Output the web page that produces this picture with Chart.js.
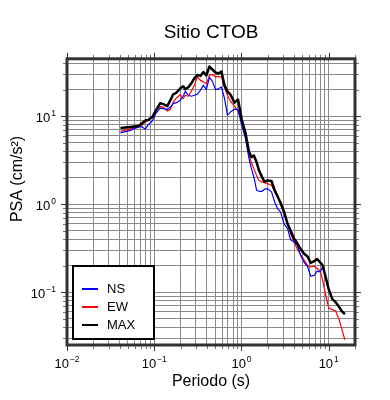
<!DOCTYPE html>
<html>
<head>
<meta charset="utf-8">
<script src="https://cdn.jsdelivr.net/npm/chart.js@4"></script>
<style>
  body { margin: 0; background: #fff; }
  canvas { display: block; }
</style>
</head>
<body>
<canvas id="psaChart" width="390" height="400"></canvas>
<script>
// periods (s) and spectral accelerations
const periods = [0.041, 0.053, 0.066, 0.073, 0.079, 0.085, 0.095, 0.105, 0.117, 0.127,
    0.141, 0.153, 0.165, 0.179, 0.199, 0.215, 0.227, 0.246, 0.266, 0.288,
    0.312, 0.338, 0.366, 0.396, 0.429, 0.464, 0.503, 0.544, 0.589, 0.638,
    0.690, 0.747, 0.831, 0.912, 1.01, 1.11, 1.22, 1.30, 1.39, 1.49,
    1.59, 1.72, 1.84, 1.99, 2.21, 2.40, 2.59, 2.81, 3.08, 3.38,
    3.66, 3.96, 4.34, 4.77, 5.23, 5.74, 6.21, 6.81, 7.38, 7.99,
    8.53, 9.24, 10.0, 11.0, 12.0, 13.2, 14.1, 15.3];

const nsPSA = [6.47, 6.90, 7.56, 7.56, 7.12, 7.96, 8.83, 10.87, 12.37, 12.21,
    11.96, 12.70, 13.90, 14.27, 15.22, 16.88, 19.22, 17.33, 16.88, 17.33,
    17.78, 19.72, 22.46, 20.25, 27.64, 24.91, 20.09, 20.51, 21.49, 16.03,
    10.31, 11.15, 12.05, 11.90, 7.76, 5.61, 3.30, 2.54, 2.01, 1.44,
    1.40, 1.40, 1.48, 1.50, 1.38, 1.06, 0.890, 0.813, 0.595, 0.523,
    0.393, 0.373, 0.345, 0.260, 0.217, 0.193, 0.152, 0.155, 0.173, 0.169,
    0.195, 0.147, 0.1075, 0.0830, 0.0768, 0.0674, 0.0608, 0.0562];

const ewPSA = [6.73, 7.18, 7.56, 7.96, 8.60, 9.06, 9.79, 11.74, 12.86, 12.70,
    11.44, 11.96, 14.45, 16.03, 17.64, 15.82, 17.33, 16.88, 19.22, 22.46,
    28.00, 25.56, 24.59, 23.34, 29.11, 29.87, 28.00, 28.30, 28.10, 21.32,
    17.33, 14.83, 13.02, 11.44, 9.06, 5.83, 3.56, 2.97, 2.52, 2.12,
    1.86, 1.78, 1.75, 1.71, 1.64, 1.38, 1.20, 1.00, 0.782, 0.595,
    0.459, 0.383, 0.311, 0.266, 0.231, 0.200, 0.193, 0.197, 0.185, 0.174,
    0.136, 0.0920, 0.0657, 0.0632, 0.0608, 0.0481, 0.0381, 0.0287];

const maxPSA = [7.36, 7.56, 7.76, 8.38, 8.94, 9.06, 9.79, 11.74, 14.08, 13.72,
    13.02, 15.22, 17.78, 18.49, 20.78, 21.88, 20.25, 21.32, 23.65, 26.93,
    29.49, 28.73, 31.86, 29.11, 36.76, 34.00, 31.45, 30.65, 32.28, 22.46,
    19.22, 17.64, 14.27, 15.50, 9.06, 6.47, 3.95, 3.43, 3.56, 2.99,
    2.41, 2.03, 1.79, 1.86, 1.83, 1.44, 1.23, 1.03, 0.813, 0.595,
    0.497, 0.414, 0.361, 0.307, 0.273, 0.253, 0.214, 0.225, 0.237, 0.217,
    0.200, 0.147, 0.1075, 0.0830, 0.0768, 0.0674, 0.0608, 0.0562];

const xRange = [0.01, 20];
const yRange = [0.025, 45];
const FONT = '"Liberation Sans", Arial, Helvetica, sans-serif';

function toPoints(vals) {
    return periods.map((t, i) => ({ x: t, y: vals[i] }));
}

// 1..9 x 10^n ticks inside the range
function logTicks(scale) {
    const ticks = [];
    for (let e = -3; e <= 2; e++) {
        for (let m = 1; m <= 9; m++) {
            const v = m * Math.pow(10, e);
            if (v >= scale.min * 0.9999 && v <= scale.max * 1.0001) {
                ticks.push({ value: v, major: m === 1 });
            }
        }
    }
    scale.ticks = ticks;
}

function supLabel(ctx, exp, x, y, align) {
    const base = '10';
    const sup = exp < 0 ? '\u2212' + Math.abs(exp) : String(exp);
    ctx.font = '13px ' + FONT;
    const wb = ctx.measureText(base).width;
    ctx.font = '8.5px ' + FONT;
    const ws = ctx.measureText(sup).width;
    let left = align === 'right' ? x - wb - ws - 1 : x - (wb + ws + 1) / 2;
    ctx.textAlign = 'left';
    ctx.textBaseline = 'alphabetic';
    ctx.font = '13px ' + FONT;
    ctx.fillText(base, left, y);
    ctx.font = '8.5px ' + FONT;
    ctx.fillText(sup, left + wb + 1, y - 6);
}

const framePlugin = {
    id: 'frame',
    afterDraw(chart) {
        const ctx = chart.ctx;
        const a = chart.chartArea;
        const xs = chart.scales.x, ys = chart.scales.y;
        ctx.save();

        // tick marks on all four sides
        ctx.lineWidth = 1;
        xs.ticks.forEach(t => {
            const px = Math.round(xs.getPixelForValue(t.value)) + 0.5;
            const len = t.major ? 6 : 4;
            ctx.strokeStyle = t.major ? '#333' : '#777';
            ctx.beginPath();
            ctx.moveTo(px, a.bottom); ctx.lineTo(px, a.bottom + len);
            ctx.moveTo(px, a.top); ctx.lineTo(px, a.top - len);
            ctx.stroke();
        });
        ys.ticks.forEach(t => {
            const py = Math.round(ys.getPixelForValue(t.value)) + 0.5;
            const len = t.major ? 6 : 4;
            ctx.strokeStyle = t.major ? '#333' : '#777';
            ctx.beginPath();
            ctx.moveTo(a.left, py); ctx.lineTo(a.left - len, py);
            ctx.moveTo(a.right, py); ctx.lineTo(a.right + len, py);
            ctx.stroke();
        });

        // frame
        ctx.lineWidth = 3;
        ctx.strokeStyle = '#333';
        ctx.strokeRect(a.left, a.top, a.right - a.left, a.bottom - a.top);

        // decade labels with superscript exponents
        ctx.fillStyle = '#000';
        xs.ticks.filter(t => t.major).forEach(t => {
            const px = xs.getPixelForValue(t.value);
            supLabel(ctx, Math.round(Math.log10(t.value)), px, a.bottom + 22.5, 'center');
        });
        ys.ticks.filter(t => t.major).forEach(t => {
            const py = ys.getPixelForValue(t.value);
            supLabel(ctx, Math.round(Math.log10(t.value)), a.left - 11, py + 5.5, 'right');
        });

        // y axis title
        ctx.save();
        ctx.translate(18, 179);
        ctx.rotate(-Math.PI / 2);
        ctx.textAlign = 'center';
        ctx.textBaseline = 'middle';
        ctx.font = '16px ' + FONT;
        ctx.fillText('PSA (cm/s\u00b2)', 0, 0);
        ctx.restore();

        // legend box
        const lx = 73, ly = 266, lw = 81, lh = 73;
        ctx.fillStyle = '#fff';
        ctx.fillRect(lx, ly, lw, lh);
        ctx.lineWidth = 2;
        ctx.strokeStyle = '#000';
        ctx.strokeRect(lx, ly, lw, lh);
        const rows = [289, 307, 325];
        [0, 1, 2].forEach(i => {
            const ds = chart.data.datasets[i];
            ctx.strokeStyle = ds.borderColor;
            ctx.lineWidth = 2;
            ctx.beginPath();
            ctx.moveTo(82, rows[i]); ctx.lineTo(98, rows[i]);
            ctx.stroke();
            ctx.fillStyle = '#000';
            ctx.font = '13px ' + FONT;
            ctx.textAlign = 'left';
            ctx.textBaseline = 'middle';
            ctx.fillText(ds.label, 107, rows[i]);
        });
        ctx.restore();
    }
};

const ctx = document.getElementById('psaChart').getContext('2d');
const psaChart = new Chart(ctx, {
    type: 'line',
    data: {
        datasets: [
            { label: 'NS', data: toPoints(nsPSA), borderColor: '#0000ff', borderWidth: 1.2, order: 1 },
            { label: 'EW', data: toPoints(ewPSA), borderColor: '#ff0000', borderWidth: 1.2, order: 2 },
            { label: 'MAX', data: toPoints(maxPSA), borderColor: '#000000', borderWidth: 2.5, order: 0 }
        ]
    },
    options: {
        responsive: false,
        devicePixelRatio: 1,
        animation: false,
        elements: { point: { radius: 0 }, line: { tension: 0, borderJoinStyle: 'round' } },
        layout: { padding: { left: 0, right: 35, top: 0, bottom: 0 } },
        plugins: {
            legend: { display: false },
            tooltip: { enabled: false },
            title: {
                display: true,
                text: 'Sitio CTOB',
                fullSize: false,
                color: '#000',
                font: { family: FONT, size: 19, weight: 'normal' },
                padding: { top: 21, bottom: 15 }
            }
        },
        scales: {
            x: {
                type: 'logarithmic',
                min: xRange[0],
                max: xRange[1],
                afterBuildTicks: logTicks,
                afterFit(scale) { scale.height = 55; },
                ticks: { display: false },
                grid: { color: '#8a8a8a', lineWidth: 1, drawTicks: false },
                border: { display: false },
                title: {
                    display: true,
                    text: 'Periodo (s)',
                    color: '#000',
                    font: { family: FONT, size: 16 },
                    padding: { top: 4, bottom: 9 }
                }
            },
            y: {
                type: 'logarithmic',
                min: yRange[0],
                max: yRange[1],
                afterBuildTicks: logTicks,
                afterFit(scale) { scale.width = 67; },
                ticks: { display: false },
                grid: { color: '#8a8a8a', lineWidth: 1, drawTicks: false },
                border: { display: false }
            }
        }
    },
    plugins: [framePlugin]
});
</script>
</body>
</html>
